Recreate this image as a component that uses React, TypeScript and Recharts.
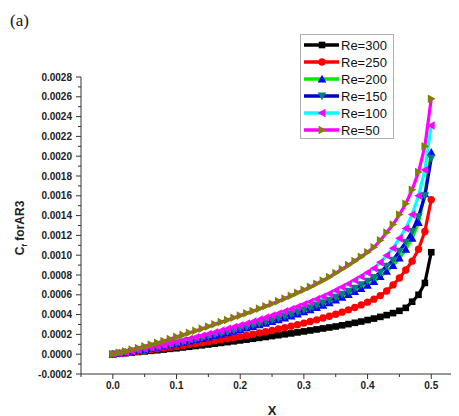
import React from 'react';
import { LineChart, Line, XAxis, YAxis, Legend } from 'recharts';

const xValues = [
  0, 0.01, 0.02, 0.03, 0.04, 0.05, 0.06, 0.07, 0.08, 0.09,
  0.1, 0.11, 0.12, 0.13, 0.14, 0.15, 0.16, 0.17, 0.18, 0.19,
  0.2, 0.21, 0.22, 0.23, 0.24, 0.25, 0.26, 0.27, 0.28, 0.29,
  0.3, 0.31, 0.32, 0.33, 0.34, 0.35, 0.36, 0.37, 0.38, 0.39,
  0.4, 0.41, 0.42, 0.43, 0.44, 0.45, 0.46, 0.47, 0.48, 0.49, 0.5,
];

const re300 = [
  0, 0.000005, 0.00001, 0.000016, 0.000022, 0.000028, 0.000034, 0.00004, 0.000047, 0.000054,
  0.00006, 0.000068, 0.000075, 0.000083, 0.00009, 0.000098, 0.000106, 0.000114, 0.000122, 0.00013,
  0.000139, 0.000147, 0.000156, 0.000165, 0.000174, 0.000183, 0.000192, 0.000201, 0.00021, 0.00022,
  0.00023, 0.00024, 0.00025, 0.00026, 0.00027, 0.00028, 0.000292, 0.000304, 0.000317, 0.00033,
  0.000345, 0.00036, 0.000377, 0.000395, 0.000415, 0.000438, 0.000468, 0.00053, 0.0006, 0.00072, 0.00103,
];

const re250 = [
  0, 0.000007, 0.000014, 0.000022, 0.00003, 0.000038, 0.000046, 0.000054, 0.000062, 0.00007,
  0.000079, 0.000088, 0.000097, 0.000106, 0.000115, 0.000125, 0.000135, 0.000145, 0.000156, 0.000167,
  0.000178, 0.00019, 0.000202, 0.000214, 0.000227, 0.00024, 0.000254, 0.000268, 0.000283, 0.000298,
  0.000314, 0.00033, 0.000347, 0.000365, 0.000384, 0.000404, 0.000425, 0.000448, 0.000472, 0.000498,
  0.000526, 0.000556, 0.000592, 0.000638, 0.0007, 0.00077, 0.00085, 0.00094, 0.00106, 0.00124, 0.00156,
];

const re200 = [
  0, 0.000009, 0.000018, 0.000028, 0.000037, 0.000048, 0.000058, 0.00007, 0.000081, 0.000093,
  0.000106, 0.000119, 0.000132, 0.000145, 0.000159, 0.000173, 0.000188, 0.000202, 0.000217, 0.000232,
  0.000247, 0.000263, 0.000279, 0.000296, 0.000313, 0.00033, 0.000348, 0.000366, 0.000385, 0.000406,
  0.000427, 0.000448, 0.00047, 0.000494, 0.000518, 0.000546, 0.000574, 0.000603, 0.000633, 0.000664,
  0.000697, 0.000734, 0.000783, 0.000838, 0.000895, 0.00097, 0.00106, 0.00117, 0.00133, 0.00162, 0.00204,
];

const re150 = [
  0, 0.0000095, 0.000019, 0.000029, 0.000039, 0.00005, 0.000061, 0.000073, 0.000085, 0.000097,
  0.00011, 0.000124, 0.000138, 0.000152, 0.000166, 0.000181, 0.000196, 0.000211, 0.000227, 0.000243,
  0.000259, 0.000276, 0.000292, 0.00031, 0.000328, 0.000346, 0.000365, 0.000385, 0.000405, 0.000427,
  0.000449, 0.000471, 0.000495, 0.00052, 0.000546, 0.000576, 0.000605, 0.000636, 0.000668, 0.000701,
  0.000737, 0.000776, 0.000829, 0.000889, 0.000949, 0.00104, 0.00113, 0.00124, 0.00139, 0.0016, 0.00198,
];

const re100 = [
  0, 0.00001, 0.00002, 0.000032, 0.000043, 0.000055, 0.000067, 0.00008, 0.000094, 0.000108,
  0.000123, 0.000138, 0.000154, 0.00017, 0.000186, 0.000203, 0.00022, 0.000238, 0.000256, 0.000274,
  0.000292, 0.00031, 0.000329, 0.000349, 0.000369, 0.00039, 0.000411, 0.000433, 0.000455, 0.00048,
  0.000505, 0.00053, 0.000556, 0.000583, 0.000612, 0.000645, 0.000678, 0.000712, 0.000748, 0.000785,
  0.000824, 0.000868, 0.000928, 0.000998, 0.00107, 0.00117, 0.00127, 0.00141, 0.0016, 0.00186, 0.00231,
];

const re50 = [
  0, 0.000015, 0.00003, 0.000046, 0.000062, 0.000079, 0.000097, 0.000115, 0.000134, 0.000154,
  0.000175, 0.000195, 0.000216, 0.000237, 0.000258, 0.00028, 0.000302, 0.000324, 0.000346, 0.000368,
  0.00039, 0.000413, 0.000436, 0.00046, 0.000485, 0.00051, 0.000536, 0.000563, 0.00059, 0.00062,
  0.00065, 0.00068, 0.000712, 0.000745, 0.00078, 0.00082, 0.00086, 0.0009, 0.000942, 0.000985,
  0.00103, 0.00108, 0.00115, 0.00123, 0.00131, 0.00141, 0.00152, 0.00166, 0.00184, 0.0021, 0.00258,
];

const seriesNames = ['Re=300', 'Re=250', 'Re=200', 'Re=150', 'Re=100', 'Re=50'];

const xTicks = [-0.05, 0, 0.05, 0.1, 0.15, 0.2, 0.25, 0.3, 0.35, 0.4, 0.45, 0.5];
const xMajorTicks = [0, 0.1, 0.2, 0.3, 0.4, 0.5];
const yTicks = [
  -0.0002, -0.0001, 0, 0.0001, 0.0002, 0.0003, 0.0004, 0.0005, 0.0006, 0.0007, 0.0008,
  0.0009, 0.001, 0.0011, 0.0012, 0.0013, 0.0014, 0.0015, 0.0016, 0.0017, 0.0018,
  0.0019, 0.002, 0.0021, 0.0022, 0.0023, 0.0024, 0.0025, 0.0026, 0.0027, 0.0028,
];

const data = xValues.map((x, i) => ({
  x,
  re300: re300[i],
  re250: re250[i],
  re200: re200[i],
  re150: re150[i],
  re100: re100[i],
  re50: re50[i],
}));

type Shape = 'square' | 'circle' | 'up' | 'down' | 'left' | 'right';

const series: { key: string; name: string; line: string; marker: string; shape: Shape }[] = [
  { key: 're300', name: seriesNames[0], line: '#000000', marker: '#000000', shape: 'square' },
  { key: 're250', name: seriesNames[1], line: '#ff0000', marker: '#ff0000', shape: 'circle' },
  { key: 're200', name: seriesNames[2], line: '#00ee00', marker: '#0000ff', shape: 'up' },
  { key: 're150', name: seriesNames[3], line: '#0000cc', marker: '#008080', shape: 'down' },
  { key: 're100', name: seriesNames[4], line: '#00ffff', marker: '#ff00ff', shape: 'left' },
  { key: 're50', name: seriesNames[5], line: '#ff00ff', marker: '#808000', shape: 'right' },
];

const FONT = '"Liberation Sans", Arial, sans-serif';
const AXIS_COLOR = '#333';

function marker(shape: Shape, color: string, cx: number, cy: number, key?: string) {
  if (cx == null || cy == null || isNaN(cx) || isNaN(cy)) return <g key={key} />;
  const s = 4.3;
  switch (shape) {
    case 'square':
      return <rect key={key} x={cx - 3.3} y={cy - 3.3} width={6.6} height={6.6} fill={color} />;
    case 'circle':
      return <circle key={key} cx={cx} cy={cy} r={3.7} fill={color} />;
    case 'up':
      return <polygon key={key} points={`${cx},${cy - s} ${cx - s},${cy + s * 0.8} ${cx + s},${cy + s * 0.8}`} fill={color} />;
    case 'down':
      return <polygon key={key} points={`${cx},${cy + s} ${cx - s},${cy - s * 0.8} ${cx + s},${cy - s * 0.8}`} fill={color} />;
    case 'left':
      return <polygon key={key} points={`${cx - s},${cy} ${cx + s * 0.8},${cy - s} ${cx + s * 0.8},${cy + s}`} fill={color} />;
    case 'right':
    default:
      return <polygon key={key} points={`${cx + s},${cy} ${cx - s * 0.8},${cy - s} ${cx - s * 0.8},${cy + s}`} fill={color} />;
  }
}

const XTick = (props: any) => {
  const { x, y, payload } = props;
  const v = payload.value;
  const isMajor = xMajorTicks.some((m) => Math.abs(m - v) < 1e-9);
  return (
    <g>
      <line x1={x} x2={x} y1={y} y2={y + (isMajor ? 5 : 3)} stroke={AXIS_COLOR} strokeWidth={1} />
      {isMajor && (
        <text x={x} y={y + 15} textAnchor="middle" fontFamily={FONT} fontWeight="bold" fontSize={10} fill="#222">
          {v.toFixed(1)}
        </text>
      )}
    </g>
  );
};

const YTick = (props: any) => {
  const { x, y, payload } = props;
  const v = payload.value;
  const isMajor = Math.abs(Math.round(v * 10000)) % 2 === 0;
  return (
    <g>
      <line x1={x - (isMajor ? 5 : 3)} x2={x} y1={y} y2={y} stroke={AXIS_COLOR} strokeWidth={1} />
      {isMajor && (
        <text x={x - 9} y={y + 3.5} textAnchor="end" fontFamily={FONT} fontWeight="bold" fontSize={10} fill="#222">
          {v.toFixed(4)}
        </text>
      )}
    </g>
  );
};

const LegendContent = () => (
  <div
    style={{
      width: 94,
      height: 105,
      border: '1px solid #b0b0b0',
      background: '#fff',
      boxSizing: 'border-box',
    }}
  >
    <svg width={94} height={105}>
      {series.map((s, i) => {
        const cy = 10 + i * 17;
        return (
          <g key={s.key}>
            <line x1={3} x2={38} y1={cy} y2={cy} stroke={s.line} strokeWidth={3.5} />
            {marker(s.shape, s.marker, 21, cy)}
            <text x={40} y={cy + 4.5} fontFamily={FONT} fontSize={13} fill="#111">
              {s.name}
            </text>
          </g>
        );
      })}
    </svg>
  </div>
);

export default function App() {
  return (
    <div style={{ position: 'relative', width: 451, height: 408 }}>
      <LineChart
        width={451}
        height={408}
        data={data}
        margin={{ top: 69, right: 1, bottom: 12, left: 0 }}
      >
        <XAxis
          dataKey="x"
          type="number"
          domain={[-0.05, 0.542]}
          ticks={xTicks}
          interval={0}
          tick={<XTick />}
          tickLine={false}
          tickSize={0}
          tickMargin={0}
          height={30}
          stroke={AXIS_COLOR}
          allowDataOverflow
        />
        <YAxis
          type="number"
          domain={[-0.0002, 0.0028]}
          ticks={yTicks}
          interval={0}
          tick={<YTick />}
          tickLine={false}
          tickSize={0}
          tickMargin={0}
          width={73}
          stroke={AXIS_COLOR}
          allowDataOverflow
        />
        <Legend
          layout="horizontal"
          verticalAlign="middle"
          align="center"
          content={<LegendContent />}
          wrapperStyle={{ position: 'absolute', left: 292, top: 26, width: 96, height: 107 }}
        />
        {series.map((s) => (
          <Line
            key={s.key}
            dataKey={s.key}
            name={s.name}
            type="linear"
            stroke={s.line}
            strokeWidth={3.2}
            isAnimationActive={false}
            dot={(p: any) => marker(s.shape, s.marker, p.cx, p.cy, `${s.key}-${p.index}`)}
            activeDot={false}
          />
        ))}
      </LineChart>
      <div
        style={{
          position: 'absolute',
          left: 2,
          top: 3,
          fontFamily: '"Liberation Serif", "Times New Roman", serif',
          fontSize: 17,
          lineHeight: '20px',
          color: '#111',
        }}
      >
        (a)
      </div>
      <div
        style={{
          position: 'absolute',
          left: 13,
          top: 220,
          transform: 'translate(-50%, -50%) rotate(-90deg)',
          whiteSpace: 'nowrap',
          fontFamily: FONT,
          fontWeight: 'bold',
          fontSize: 12,
          color: '#222',
        }}
      >
        C<sub style={{ fontSize: 8 }}>f</sub> forAR3
      </div>
      <div
        style={{
          position: 'absolute',
          left: 264,
          top: 402,
          transform: 'translate(-50%, -50%)',
          fontFamily: FONT,
          fontWeight: 'bold',
          fontSize: 13,
          color: '#222',
        }}
      >
        X
      </div>
    </div>
  );
}
